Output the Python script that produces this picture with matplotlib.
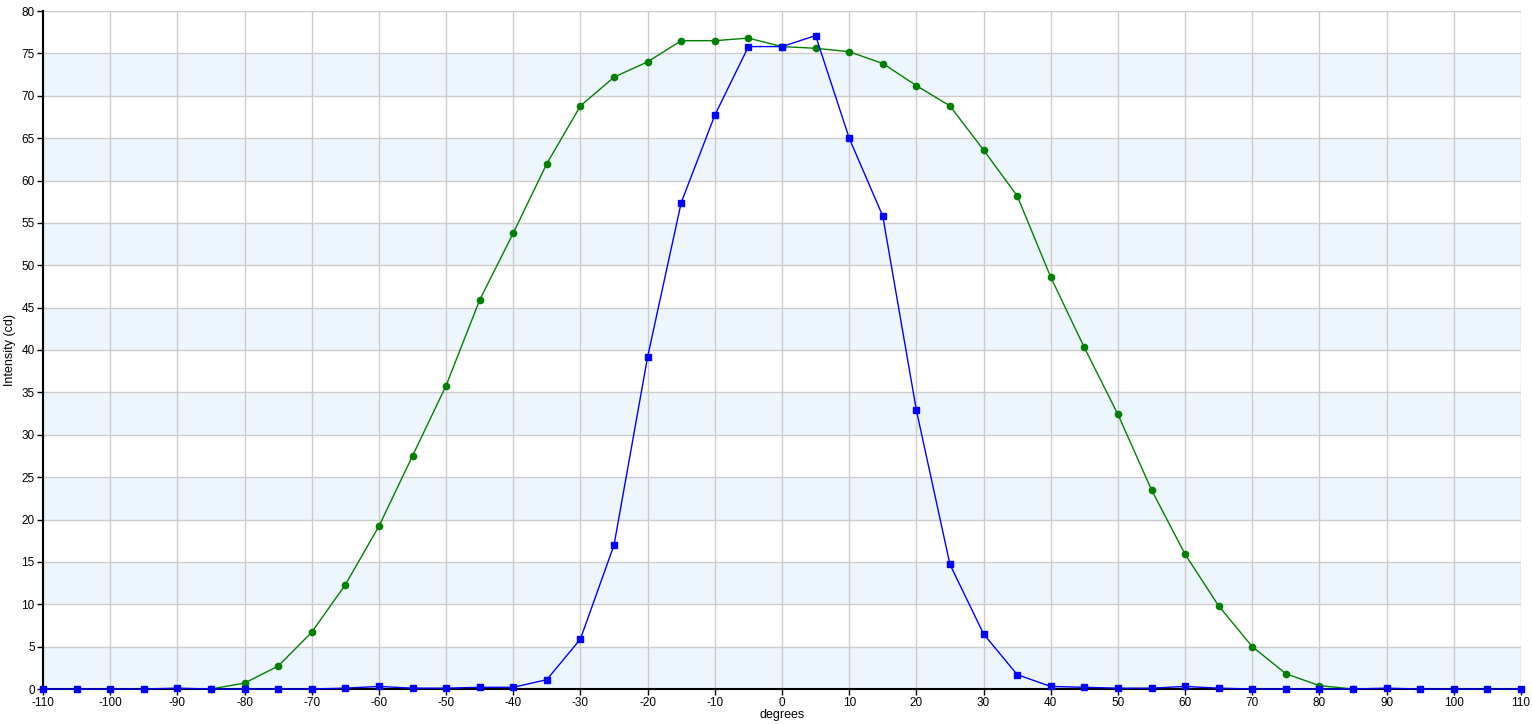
import matplotlib.pyplot as plt

plt.rcParams['font.family'] = ['Liberation Sans', 'DejaVu Sans']
plt.rcParams['axes.unicode_minus'] = False

# blue series: -110 .. 110 step 5
blue_deg = list(range(-110, 115, 5))
blue_cd = [0, 0, 0, 0, 0.1, 0, 0, 0, 0,          # -110 .. -70
           0.1, 0.3, 0.1, 0.1, 0.2, 0.2,         # -65 .. -40
           1.1, 5.9, 17.0, 39.2, 57.4, 67.7,     # -35 .. -10
           75.8, 75.8, 77.1, 65.0, 55.8, 32.9,   # -5 .. 20
           14.7, 6.5, 1.7, 0.3, 0.2, 0.1,        # 25 .. 50
           0.1, 0.3, 0.1, 0, 0, 0,               # 55 .. 80
           0, 0.1, 0, 0, 0, 0]                   # 85 .. 110

# green series: -85 .. 85 step 5
green_deg = list(range(-85, 90, 5))
green_cd = [0, 0.7, 2.7, 6.7, 12.3, 19.2, 27.5, 35.8, 45.9, 53.8, 62.0,
            68.8, 72.2, 74.0, 76.5, 76.5, 76.8, 75.8, 75.6, 75.2, 73.8,
            71.2, 68.8, 63.6, 58.2, 48.6, 40.3, 32.4, 23.5, 15.9, 9.8,
            5.0, 1.8, 0.4, 0]

fig = plt.figure(figsize=(15.32, 7.25), dpi=100)
ax = fig.add_axes([43 / 1532, 1 - 689 / 725, 1478 / 1532, 678 / 725])

for lo in range(0, 80, 10):
    ax.axhspan(lo, lo + 5, color='#eef6fd', zorder=0, lw=0)

ax.plot(green_deg, green_cd, color='#008000', lw=1, marker='o', ms=4.5,
        zorder=3, clip_on=False)
ax.plot(blue_deg, blue_cd, color='#0000ff', lw=1, marker='s', ms=4.5,
        zorder=4, clip_on=False)

ax.set_xlim(-110, 110)
ax.set_ylim(0, 80)
ax.set_xticks(range(-110, 111, 10))
ax.set_yticks(range(0, 81, 5))
ax.grid(color='#cccccc', lw=1, zorder=1)
ax.set_axisbelow(True)
for s in ['top', 'right']:
    ax.spines[s].set_visible(False)
for s in ['left', 'bottom']:
    ax.spines[s].set_linewidth(1.5)
ax.tick_params(labelsize=8.5, length=4, width=1, pad=2)
ax.set_xlabel('degrees', fontsize=9, labelpad=0)
ax.set_ylabel('Intensity (cd)', fontsize=9, labelpad=4)

fig.savefig('out.png', dpi=100)
